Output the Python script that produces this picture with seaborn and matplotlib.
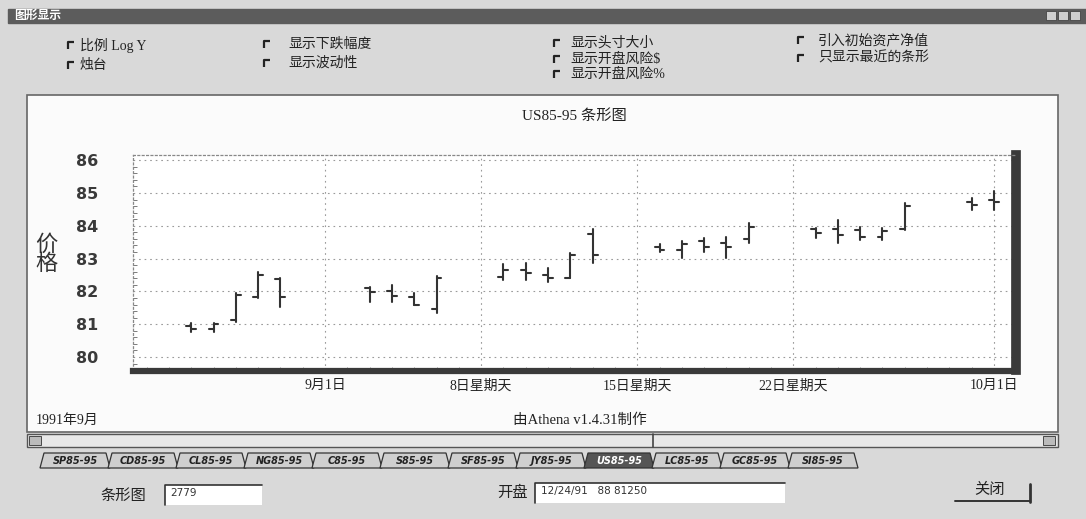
import numpy as np
import pandas as pd
import matplotlib
matplotlib.use("Agg")
import matplotlib.pyplot as plt
from matplotlib.patches import Rectangle, Polygon
import seaborn as sns

# ---------------- data ----------------
dates = ["1991-08-26", "1991-08-27", "1991-08-28", "1991-08-29", "1991-08-30",
         "1991-09-03", "1991-09-04", "1991-09-05", "1991-09-06",
         "1991-09-09", "1991-09-10", "1991-09-11", "1991-09-12", "1991-09-13",
         "1991-09-16", "1991-09-17", "1991-09-18", "1991-09-19", "1991-09-20",
         "1991-09-23", "1991-09-24", "1991-09-25", "1991-09-26", "1991-09-27",
         "1991-09-30", "1991-10-01"]
opens  = [80.95, 80.85, 81.13, 81.83, 82.38, 82.10, 82.00, 81.83, 81.45,
          82.45, 82.65, 82.50, 82.42, 83.75, 83.35, 83.26, 83.55, 83.48, 83.60,
          83.90, 83.90, 83.88, 83.66, 83.90, 84.72, 84.79]
highs  = [81.05, 81.03, 81.95, 82.59, 82.41, 82.13, 82.20, 81.95, 82.47,
          82.83, 82.88, 82.70, 83.17, 83.90, 83.45, 83.55, 83.63, 83.66, 84.10,
          83.93, 84.17, 83.96, 83.93, 84.70, 84.85, 85.05]
lows   = [80.75, 80.75, 81.07, 81.80, 81.52, 81.68, 81.68, 81.58, 81.34,
          82.35, 82.35, 82.30, 82.40, 82.87, 83.20, 83.02, 83.20, 83.02, 83.48,
          83.63, 83.48, 83.57, 83.57, 83.87, 84.48, 84.48]
closes = [80.85, 81.00, 81.89, 82.50, 81.83, 81.98, 81.85, 81.60, 82.40,
          82.65, 82.55, 82.40, 83.12, 83.10, 83.26, 83.45, 83.35, 83.35, 83.95,
          83.78, 83.72, 83.66, 83.85, 84.60, 84.63, 84.73]

tick_dates = ["1991-09-01", "1991-09-08", "1991-09-15", "1991-09-22", "1991-10-01"]
tick_labels = ["9月1日", "8日星期天", "15日星期天", "22日星期天", "10月1日"]
yticks = [80, 81, 82, 83, 84, 85, 86]

title = "US85-95 条形图"
ylabel = "价格"
footer_left = "1991年9月"
footer_mid = "由Athena v1.4.31制作"

options = [("比例 Log Y", 68, 80, 45), ("烛台", 68, 80, 65),
           ("显示下跌幅度", 264, 288, 44), ("显示波动性", 264, 288, 63),
           ("显示头寸大小", 554, 570, 43), ("显示开盘风险$", 554, 570, 59),
           ("显示开盘风险%", 554, 570, 74),
           ("引入初始资产净值", 798, 818, 40), ("只显示最近的条形", 798, 818, 58)]
tabs = ["SP85-95", "CD85-95", "CL85-95", "NG85-95", "C85-95", "S85-95",
        "SF85-95", "JY85-95", "US85-95", "LC85-95", "GC85-95", "SI85-95"]

# ---------------- prep ----------------
base = pd.Timestamp("1991-09-01")
xd = (pd.to_datetime(dates) - base).days.values.astype(float)
xt = (pd.to_datetime(tick_dates) - base).days.values.astype(float)

tk = 0.22
rows = []
for i, x in enumerate(xd):
    rows += [(x, lows[i], 3 * i), (x, highs[i], 3 * i),
             (x - tk, opens[i], 3 * i + 1), (x, opens[i], 3 * i + 1),
             (x, closes[i], 3 * i + 2), (x + tk, closes[i], 3 * i + 2)]
df = pd.DataFrame(rows, columns=["x", "y", "seg"])

# ---------------- figure ----------------
sns.set_style("white")
serif = ["Liberation Serif", "Noto Sans CJK SC", "DejaVu Sans"]
plt.rcParams["font.family"] = ["Noto Sans CJK SC", "DejaVu Sans"]

W, H = 1086, 519
fig = plt.figure(figsize=(W / 100, H / 100), dpi=100)
fig.patch.set_facecolor("#d9d9d9")

bg = fig.add_axes([0, 0, 1, 1], zorder=0)
bg.set_xlim(0, W)
bg.set_ylim(H, 0)
bg.axis("off")

# title bar
bg.add_patch(Rectangle((8, 9), W - 8, 14, color="#5c5c5c"))
bg.text(14, 16, "图形显示", color="white", fontsize=8.5, va="center", family=serif, fontweight="bold")
for bx in (1046, 1058, 1070):
    bg.add_patch(Rectangle((bx, 11), 10, 9, facecolor="#cfcfcf", edgecolor="#444", lw=0.6))

# checkboxes
for lab, bx, tx, ty in options:
    bg.plot([bx, bx, bx + 6], [ty + 4, ty - 3, ty - 3], color="#222", lw=1.6, solid_capstyle="butt")
    bg.text(tx, ty, lab, fontsize=10, va="center", ha="left", family=serif, color="#222")

# chart panel
bg.add_patch(Rectangle((27, 95), 1031, 337, facecolor="#fbfbfb", edgecolor="#666", lw=1.2))
bg.text(36, 420, footer_left, fontsize=10, va="center", ha="left", family=serif, color="#222")
bg.text(580, 420, footer_mid, fontsize=10.5, va="center", ha="center", family=serif, color="#222")

# scrollbar
bg.add_patch(Rectangle((27, 434), 1031, 13, facecolor="#e8e8e8", edgecolor="#555", lw=1.0))
bg.add_patch(Rectangle((29, 436), 12, 9, facecolor="#bbb", edgecolor="#333", lw=0.6))
bg.add_patch(Rectangle((1043, 436), 12, 9, facecolor="#bbb", edgecolor="#333", lw=0.6))
bg.plot([653, 653], [434, 447], color="#444", lw=1.2)

# tabs
tx0 = 40
for t in tabs:
    w = 66
    dark = t == "US85-95"
    bg.add_patch(Polygon([(tx0, 468), (tx0 + 4, 453), (tx0 + w, 453), (tx0 + w + 4, 468)],
                         closed=True, facecolor="#555" if dark else "#cfcfcf",
                         edgecolor="#333", lw=0.9))
    bg.text(tx0 + w / 2 + 2, 461, t, fontsize=7, ha="center", va="center",
            color="white" if dark else "#222", family="DejaVu Sans", fontweight="bold",
            style="italic")
    tx0 += w + 2

# bottom controls
bg.text(100, 496, "条形图", fontsize=11, va="center", ha="left", family=serif, color="#222")
bg.add_patch(Rectangle((165, 485), 97, 20, facecolor="white", edgecolor="none"))
bg.plot([165, 165, 262], [505, 485, 485], color="#333", lw=1.2)
bg.text(170, 493, "2779", fontsize=7.5, va="center", ha="left", family="DejaVu Sans", color="#333")
bg.text(497, 493, "开盘", fontsize=11, va="center", ha="left", family=serif, color="#222")
bg.add_patch(Rectangle((535, 483), 250, 20, facecolor="white", edgecolor="none"))
bg.plot([535, 535, 785], [503, 483, 483], color="#333", lw=1.2)
bg.text(541, 491, "12/24/91   88 81250", fontsize=7.5, va="center", ha="left",
        family="DejaVu Sans", color="#333")
bg.text(990, 490, "关闭", fontsize=11, va="center", ha="center", family=serif, color="#222")
bg.plot([955, 1030], [501, 501], color="#333", lw=1.4)
bg.plot([1030, 1030], [484, 502], color="#333", lw=2)

# ---------------- chart axes ----------------
px_day = 22.3
x_sep1 = 325.0
px_unit = 32.8
y80 = 357.0
ax_l, ax_r, ax_t, ax_b = 133, 1016, 155, 370.5
ax = fig.add_axes([ax_l / W, 1 - ax_b / H, (ax_r - ax_l) / W, (ax_b - ax_t) / H], zorder=2)
ax.set_facecolor("white")

sns.lineplot(data=df, x="x", y="y", units="seg", estimator=None, sort=False,
             color="#333333", lw=1.5, ax=ax, legend=False)

ax.set_xlim((ax_l - x_sep1) / px_day, (ax_r - x_sep1) / px_day)
ax.set_ylim(80 - (ax_b - y80) / px_unit, 80 + (y80 - ax_t) / px_unit)

ax.set_yticks(yticks)
ax.set_yticklabels([str(v) for v in yticks], fontsize=11.5, fontweight="bold",
                   color="#3a3a3a", family="DejaVu Sans")
ax.set_xticks(xt)
ax.set_xticklabels(tick_labels, fontsize=10, color="#222", family=serif)
ax.set_xticks(np.arange(-8, 31), minor=True)
ax.set_yticks(np.arange(79.8, 86.1, 0.2), minor=True)
ax.tick_params(axis="y", which="major", length=0, pad=25)
ax.tick_params(axis="y", which="minor", length=3, direction="in", color="#666", left=True)
ax.tick_params(axis="x", which="major", length=0, pad=6)
ax.tick_params(axis="x", which="minor", length=3, direction="in", color="#888", bottom=True)

ax.grid(True, which="major", color="#9a9a9a", lw=0.8, linestyle=(0, (1.5, 3.5)))
ax.set_xlabel("")
ax.set_ylabel(ylabel[0] + "\n" + ylabel[1], rotation=0, fontsize=16, color="#333",
              family=serif, labelpad=0, linespacing=0.95, va="center", ha="center")
ax.yaxis.set_label_coords(-0.098, 0.535)
ax.set_title(title, fontsize=11, color="#222", family=serif, pad=25)

for s in ("top", "left"):
    ax.spines[s].set_color("#888")
    ax.spines[s].set_linewidth(0.9)
    ax.spines[s].set_linestyle((0, (1.5, 2)))
ax.spines["bottom"].set_color("#3a3a3a")
ax.spines["bottom"].set_linewidth(4.5)
ax.spines["right"].set_color("#3a3a3a")
ax.spines["right"].set_linewidth(7)

fig.savefig("out.png", dpi=100, facecolor=fig.get_facecolor())
